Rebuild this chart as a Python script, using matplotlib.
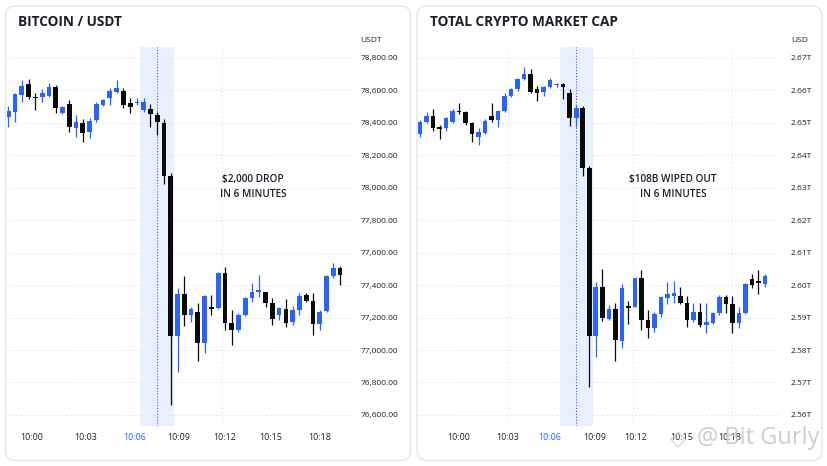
import matplotlib
matplotlib.use('Agg')
import numpy as np
import matplotlib.pyplot as plt
from matplotlib.patches import FancyBboxPatch
from matplotlib.ticker import FuncFormatter

plt.rcParams['font.family'] = ['Open Sans', 'DejaVu Sans']

# BTC / USDT candles (price in USDT)
btc_open = [78433, 78467, 78570, 78638, 78560, 78560, 78566, 78618, 78461, 78513,
            78369, 78400, 78344, 78416, 78509, 78550, 78591, 78595, 78523, 78523,
            78478, 78482, 78447, 78400, 78071, 77086, 77345, 77216, 77236, 77045,
            77267, 77260, 77476, 77164, 77123, 77216, 77318, 77355, 77355, 77288,
            77216, 77251, 77171, 77246, 77339, 77304, 77160, 77242, 77456, 77503]
btc_high = [78503, 78584, 78663, 78669, 78581, 78607, 78644, 78632, 78503, 78540,
            78447, 78421, 78427, 78529, 78546, 78612, 78663, 78612, 78550, 78554,
            78550, 78515, 78467, 78421, 78088, 77380, 77456, 77267, 77291, 77339,
            77339, 77482, 77513, 77246, 77226, 77326, 77411, 77462, 77359, 77318,
            77267, 77312, 77271, 77353, 77353, 77353, 77246, 77462, 77534, 77517]
btc_low = [78371, 78402, 78525, 78544, 78478, 78529, 78558, 78458, 78453, 78344,
           78314, 78283, 78304, 78406, 78503, 78509, 78584, 78492, 78458, 78511,
           78467, 78373, 78324, 78022, 76661, 76866, 77148, 77174, 76934, 76980,
           77216, 77255, 77123, 77031, 77113, 77210, 77297, 77328, 77267, 77154,
           77185, 77143, 77154, 77216, 77297, 77092, 77123, 77236, 77442, 77400]
btc_close = [78474, 78575, 78628, 78556, 78550, 78581, 78618, 78492, 78495, 78371,
             78406, 78338, 78412, 78513, 78540, 78597, 78615, 78509, 78495, 78529,
             78529, 78451, 78406, 78071, 77086, 77345, 77216, 77251, 77045, 77333,
             77252, 77476, 77164, 77123, 77216, 77318, 77355, 77370, 77288, 77189,
             77260, 77168, 77246, 77333, 77304, 77160, 77236, 77456, 77503, 77462]

# Total crypto market cap candles (billions USD)
tot_open = [2646.5, 2650.3, 2652.1, 2648.8, 2648.3, 2650.3, 2653.7, 2653.2, 2649.8, 2645.7,
            2646.9, 2652.1, 2650.8, 2653.6, 2658.2, 2660.3, 2663.4, 2665.0, 2660.3, 2659.3,
            2660.9, 2661.5, 2661.9, 2659.2, 2651.3, 2654.4, 2636.0, 2584.3, 2599.3, 2589.5,
            2592.5, 2582.9, 2593.6, 2593.3, 2602.1, 2589.2, 2586.7, 2591.2, 2596.1, 2596.6,
            2596.6, 2594.6, 2589.2, 2591.8, 2587.7, 2588.3, 2591.3, 2596.2, 2594.1, 2588.2,
            2591.5, 2601.9, 2601.1, 2600.3]
tot_high = [2650.8, 2653.4, 2654.1, 2649.3, 2651.8, 2654.1, 2656.1, 2653.7, 2650.3, 2648.3,
            2651.0, 2656.0, 2653.9, 2659.0, 2660.6, 2663.7, 2667.0, 2666.4, 2661.3, 2661.3,
            2663.7, 2662.1, 2662.1, 2660.3, 2655.4, 2655.1, 2636.7, 2601.0, 2605.0, 2593.9,
            2594.5, 2600.3, 2595.2, 2602.3, 2604.5, 2592.3, 2591.7, 2596.6, 2600.9, 2601.2,
            2599.3, 2596.6, 2594.4, 2594.4, 2594.4, 2591.8, 2596.8, 2596.9, 2596.7, 2593.3,
            2600.6, 2603.4, 2604.6, 2603.5]
tot_low = [2645.5, 2649.8, 2647.5, 2644.9, 2647.5, 2649.8, 2652.7, 2649.3, 2644.1, 2643.1,
           2646.5, 2650.3, 2648.8, 2653.2, 2657.8, 2659.8, 2663.1, 2659.0, 2656.8, 2658.3,
           2660.7, 2661.1, 2657.2, 2649.0, 2648.8, 2633.6, 2568.7, 2577.8, 2588.9, 2589.2,
           2576.7, 2580.5, 2588.0, 2593.1, 2586.2, 2583.7, 2585.6, 2590.3, 2594.2, 2594.5,
           2594.2, 2587.2, 2588.7, 2587.1, 2585.1, 2588.0, 2590.8, 2591.3, 2585.2, 2586.7,
           2591.2, 2599.1, 2597.2, 2599.4]
tot_close = [2650.3, 2652.1, 2648.3, 2648.0, 2651.3, 2653.7, 2653.2, 2649.8, 2646.5, 2647.2,
             2650.6, 2650.8, 2653.6, 2658.2, 2660.3, 2663.4, 2665.0, 2659.5, 2659.2, 2660.9,
             2663.1, 2661.9, 2661.1, 2651.3, 2654.4, 2636.0, 2584.3, 2599.3, 2589.8, 2592.5,
             2583.1, 2599.2, 2592.8, 2602.1, 2589.2, 2586.7, 2591.2, 2596.2, 2597.3, 2597.6,
             2594.6, 2589.2, 2591.8, 2587.7, 2588.7, 2591.5, 2596.2, 2594.1, 2588.2, 2591.5,
             2600.2, 2599.9, 2600.5, 2602.9]

time_labels = ['10:00', '10:03', '10:06', '10:09', '10:12', '10:15', '10:18']
btc_ticks = [76600, 76800, 77000, 77200, 77400, 77600, 77800, 78000, 78200, 78400, 78600, 78800]
tot_ticks = [2560, 2570, 2580, 2590, 2600, 2610, 2620, 2630, 2640, 2650, 2660, 2670]

BLUE = '#2962FF'
DARK = '#0b0b0b'
GRID = '#e3e5ea'
TXT = '#1b1f2a'

W, H = 828, 466
fig = plt.figure(figsize=(W / 100, H / 100), dpi=100)
fig.patch.set_facecolor('white')

# rounded panel frames
for x0 in (5.5, 417):
    box = FancyBboxPatch((x0 / 100, 5.5 / 100), 4.05, 4.545,
                         boxstyle='round,pad=0,rounding_size=0.1',
                         transform=fig.dpi_scale_trans, fc='white', ec='#e0e3eb',
                         lw=0.9, zorder=-1)
    fig.add_artist(box)


def candles(ax, o, h, l, c, min_body):
    o, h, l, c = map(np.asarray, (o, h, l, c))
    x = np.arange(len(o))
    cols = np.where(c >= o, BLUE, DARK)
    ax.vlines(x, l, h, colors=cols, lw=0.9, zorder=3)
    ax.bar(x, np.maximum(np.abs(c - o), min_body), bottom=np.minimum(o, c),
           width=0.7, color=cols, lw=0, zorder=4)


def setup(ax, xlim, ylim, yticks, fmt, pad_y, tick_pos, grid_pos, band, title):
    ax.set_facecolor('none')
    for s in ax.spines.values():
        s.set_visible(False)
    ax.set_xlim(*xlim)
    ax.set_ylim(*ylim)
    ax.yaxis.tick_right()
    ax.set_yticks(yticks)
    ax.yaxis.set_major_formatter(FuncFormatter(fmt))
    ax.set_xticks(tick_pos)
    ax.set_xticklabels(time_labels)
    ax.set_xticks(grid_pos, minor=True)
    ax.tick_params(axis='y', length=0, pad=pad_y, labelsize=6, labelcolor=TXT)
    ax.tick_params(axis='x', which='both', length=0, pad=5, labelsize=6.4, labelcolor=TXT)
    ax.get_xticklabels()[2].set_color(BLUE)
    ax.grid(axis='y', color=GRID, lw=0.6, ls=(0, (2.5, 2.5)))
    ax.grid(axis='x', which='minor', color=GRID, lw=0.6, ls=(0, (2.5, 2.5)))
    ax.set_axisbelow(True)
    ax.axvspan(band[0], band[1], color='#e9f0fd', zorder=0.2, lw=0)
    ax.axvline((band[0] + band[1]) / 2, color=BLUE, lw=0.8, ls=(0, (1, 1.6)), zorder=0.3)
    fig.text(title[1] / W, 1 - 22 / H, title[0], fontsize=9.8, fontweight='bold',
             color=TXT, va='center')


# left panel: bitcoin
ax1 = fig.add_axes([7 / W, 40 / H, 347 / W, 379.3 / H])
setup(ax1, (-0.19, 51.06), (76532, 78868), btc_ticks,
      lambda v, p: f'{v:,.2f}', 4.8,
      [3.46, 11.39, 18.6, 25.1, 31.9, 38.8, 46.0],
      [3.46, 11.39, 31.5, 38.8, 46.0],
      (19.5, 24.5), ('BITCOIN / USDT', 18))
candles(ax1, btc_open, btc_high, btc_low, btc_close, 6)
fig.text(360 / W, 1 - 41 / H, 'USDT', fontsize=6, color=TXT, va='center')
fig.text(253 / W, 1 - 187 / H, '\\$2,000 DROP\nIN 6 MINUTES', fontsize=7.2,
         fontweight='semibold', color=TXT, ha='center', va='center', linespacing=1.6)

# right panel: total market cap
ax2 = fig.add_axes([418 / W, 40 / H, 361 / W, 379.3 / H])
setup(ax2, (-0.31, 55.15), (2556.6, 2673.4), tot_ticks,
      lambda v, p: f'{v / 1000:.2f}T', 8.6,
      [5.88, 13.41, 19.97, 26.77, 33.2, 40.2, 47.6],
      [5.88, 13.5, 32.7, 40.2, 47.7],
      (21.5, 26.5), ('TOTAL CRYPTO MARKET CAP', 430))
candles(ax2, tot_open, tot_high, tot_low, tot_close, 0.3)
fig.text(791 / W, 1 - 41 / H, 'USD', fontsize=6, color=TXT, va='center')
fig.text(673 / W, 1 - 187 / H, '\\$108B WIPED OUT\nIN 6 MINUTES', fontsize=7.2,
         fontweight='semibold', color=TXT, ha='center', va='center', linespacing=1.6)

# watermark
fig.text(678 / W, 1 - 439 / H, '\u25c7', fontsize=15, color='#cfcfcf',
         ha='center', va='center', family='DejaVu Sans')
fig.text(697 / W, 1 - 438 / H, '@ Bit Gurly', fontsize=17, color='#cdcdcd', va='center')

fig.savefig('out.png', dpi=100)
